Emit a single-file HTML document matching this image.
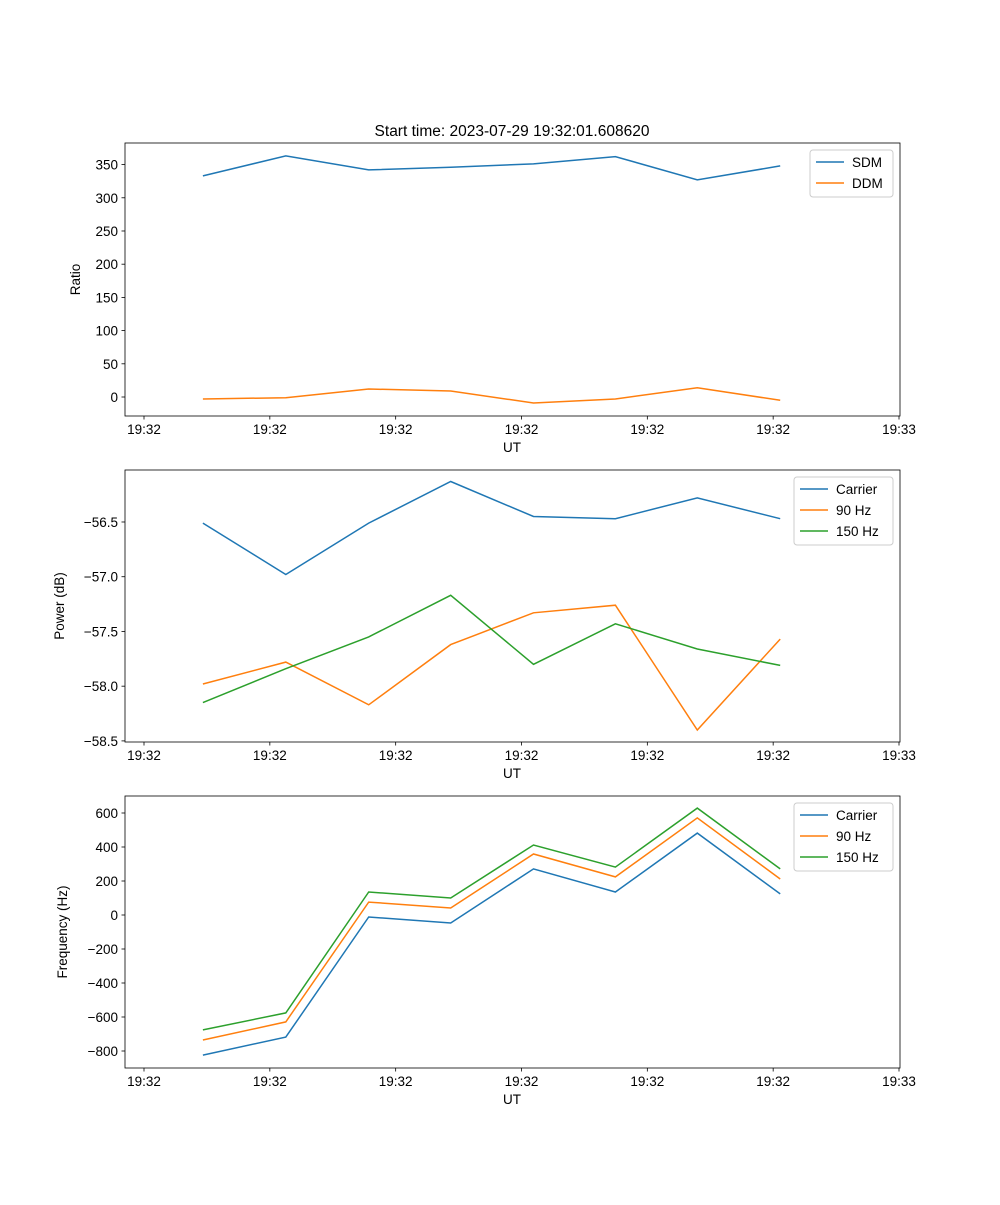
<!DOCTYPE html>
<html><head><meta charset="utf-8"><style>
body{margin:0;background:#fff}
svg text{font-family:"Liberation Sans","DejaVu Sans",sans-serif;font-size:13.5px;fill:#000}
</style></head><body>
<svg id="fig" width="1000" height="1200" xmlns="http://www.w3.org/2000/svg">
<rect width="1000" height="1200" fill="#fff"/>
<text x="512" y="136" text-anchor="middle" font-size="15.5" style="font-size:15.5px">Start time: 2023-07-29 19:32:01.608620</text>
</svg>
<script>
const times=[4.68,11.27,17.86,24.37,30.95,37.46,43.97,50.56];
const xTicks=[0,10,20,30,40,50,60];
const xTickLabels=["19:32","19:32","19:32","19:32","19:32","19:32","19:33"];
const sdm=[333,363,342,346,351,362,327,348];
const ddm=[-3,-1,12,9,-9,-3,14,-5];
const pCarrier=[-56.51,-56.98,-56.51,-56.13,-56.45,-56.47,-56.28,-56.47];
const p90=[-57.98,-57.78,-58.17,-57.62,-57.33,-57.26,-58.40,-57.57];
const p150=[-58.15,-57.84,-57.55,-57.17,-57.80,-57.43,-57.66,-57.81];
const fCarrier=[-824,-718,-12,-47,271,135,482,124];
const f90=[-735,-629,76,41,359,224,571,212];
const f150=[-676,-576,135,100,412,282,629,271];
const ratioTicks=[0,50,100,150,200,250,300,350];
const powerTicks=[-58.5,-58.0,-57.5,-57.0,-56.5];
const freqTicks=[-800,-600,-400,-200,0,200,400,600];

const NS="http://www.w3.org/2000/svg";
const svg=document.getElementById('fig');
function mk(tag,attrs,parent){const e=document.createElementNS(NS,tag);for(const k in attrs)e.setAttribute(k,attrs[k]);(parent||svg).appendChild(e);return e;}
const X0=125,X1=900;
function xs(t){return 144+(t-0)*(899-144)/60;}
const C=['#1f77b4','#ff7f0e','#2ca02c'];

function panel(name,top,bot,ymin,ymax,ticks,fmt,ylabel,ylx,series,labels,leg){
  const g=mk('g',{});
  
  
  const ys=v=>bot-(v-ymin)/(ymax-ymin)*(bot-top);
  series.forEach((s,i)=>{
    const pts=s.map((v,j)=>xs(times[j]).toFixed(1)+','+ys(v).toFixed(1)).join(' ');
    const pl=mk('polyline',{points:pts,fill:'none',stroke:C[i],'stroke-width':1.5},g);
    
    
  });
  const r=mk('rect',{x:X0,y:top,width:X1-X0,height:bot-top,fill:'none',stroke:'#000','stroke-width':0.8},g);
  
  
  xTicks.forEach((t,i)=>{
    const x=xs(t);
    mk('line',{x1:x,x2:x,y1:bot,y2:bot+3.5,stroke:'#000','stroke-width':0.8},g);
    const tx=mk('text',{x:x,y:bot+18,'text-anchor':'middle'},g);tx.textContent=xTickLabels[i];
    
    
  });
  ticks.forEach(v=>{
    const y=ys(v);
    mk('line',{x1:X0-3.5,x2:X0,y1:y,y2:y,stroke:'#000','stroke-width':0.8},g);
    const tx=mk('text',{x:X0-7,y:y+5,'text-anchor':'end'},g);tx.textContent=fmt(v);
    
    
  });
  const xl=mk('text',{x:512,y:bot+36,'text-anchor':'middle'},g);xl.textContent='UT';
  
  
  const cy=(top+bot)/2;
  const yl=mk('text',{x:ylx,y:cy,'text-anchor':'middle',transform:`rotate(-90 ${ylx} ${cy})`},g);yl.textContent=ylabel;
  
  
  const lg=mk('g',{},g);
  
  
  const lh=labels.length*21+5;
  mk('rect',{x:leg,y:top+7,width:893-leg,height:lh,rx:3,fill:'#fff',stroke:'#ccc','stroke-width':1},lg);
  labels.forEach((l,i)=>{
    const y=top+19+i*21;
    mk('line',{x1:leg+6,x2:leg+34,y1:y,y2:y,stroke:C[i],'stroke-width':1.5},lg);
    const t=mk('text',{x:leg+42,y:y+5},lg);t.textContent=l;
    
    
  });
}
panel('ratio',143,416,-28.6,382.5,ratioTicks,v=>String(v),'Ratio',80,[sdm,ddm],['SDM','DDM'],810);
panel('power',470,742,-58.51,-56.025,powerTicks,v=>v.toFixed(1).replace('-','\u2212'),'Power (dB)',64,[pCarrier,p90,p150],['Carrier','90 Hz','150 Hz'],794);
panel('frequency',796,1068,-900,700,freqTicks,v=>String(v).replace('-','\u2212'),'Frequency (Hz)',67,[fCarrier,f90,f150],['Carrier','90 Hz','150 Hz'],794);
</script>
</body></html>
